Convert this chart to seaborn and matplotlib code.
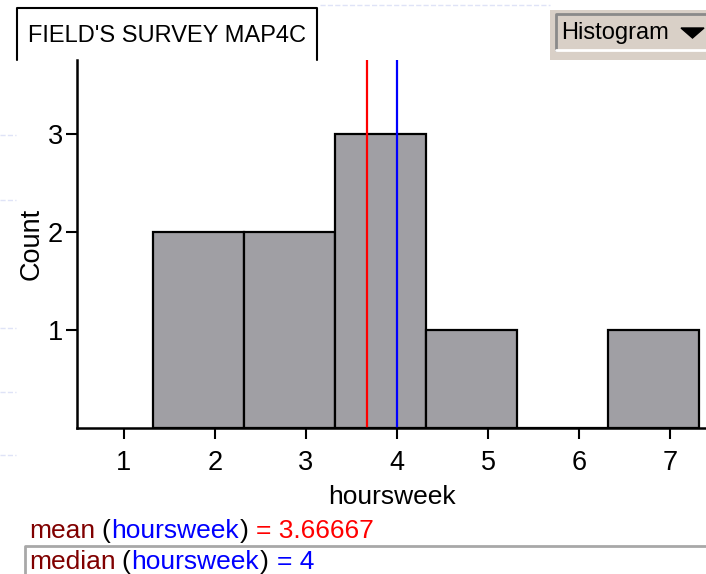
import numpy as np
import pandas as pd
import seaborn as sns
import matplotlib
matplotlib.use("Agg")
from matplotlib import pyplot as plt
from matplotlib.lines import Line2D
from matplotlib.patches import Rectangle, Polygon

# values
bin_edges = [1.32, 2.32, 3.32, 4.32, 5.32, 6.32, 7.32]
counts = [2, 2, 3, 1, 0, 1]
mean_val = 3.66667
median_val = 4
x_ticks = [1, 2, 3, 4, 5, 6, 7]
y_ticks = [1, 2, 3]
title = "FIELD'S SURVEY MAP4C"
var_name = "hoursweek"

sns.set_theme(style="white")
plt.rcParams['font.family'] = ['Liberation Sans', 'DejaVu Sans']

W, H = 706, 574
fig = plt.figure(figsize=(W / 100, H / 100), dpi=100)

def px(x, y):
    return x / W, 1 - y / H

# axes placed in pixel coords: y-axis at x=77, baseline y=428, top y=60
ax = fig.add_axes([77 / W, 1 - 428 / H, (706 - 77) / W, (428 - 60) / H])
df = pd.DataFrame({'x': [(a + b) / 2 for a, b in zip(bin_edges[:-1], bin_edges[1:])], 'n': counts})
sns.histplot(data=df, x='x', weights='n', bins=bin_edges, ax=ax, color='#a09fa4',
             edgecolor='black', linewidth=1.6, alpha=1)
ax.axvline(mean_val, color='#ff0000', lw=1.6)
ax.axvline(median_val, color='#0000ff', lw=1.6)

ax.set_xlim(1 - 47 / 91, 1 + (706 - 124) / 91)
ax.set_ylim(0, 368 / 98)
ax.set_xticks(x_ticks)
ax.set_yticks(y_ticks)
ax.tick_params(axis='both', labelsize=19.5, colors='black', length=8, width=1.5, direction='out')
ax.tick_params(axis='x', pad=8)
ax.tick_params(axis='y', pad=2)
ax.xaxis.set_ticks_position('bottom')
ax.yaxis.set_ticks_position('left')
for s in ['top', 'right']:
    ax.spines[s].set_visible(False)
for s in ['left', 'bottom']:
    ax.spines[s].set_color('black')
    ax.spines[s].set_linewidth(1.8)
ax.set_xlabel(var_name, fontsize=19, color='black', labelpad=6)
ax.set_ylabel('Count', fontsize=19.5, color='black', labelpad=2)
ax.patch.set_alpha(0)

# title box, open at the bottom
fig.add_artist(Line2D([17 / W, 17 / W, 317 / W, 317 / W],
                      [1 - 60 / H, 1 - 8 / H, 1 - 8 / H, 1 - 60 / H], color='black', lw=1.5))
fig.text(*px(167, 36), title, fontsize=17, ha='center', va='center', color='black')

# Histogram menu button
fig.add_artist(Rectangle(px(550, 60), 156 / W, 50 / H, facecolor='#d9d0c7', edgecolor='none'))
fig.add_artist(Line2D([556 / W, 556 / W, 706 / W], [1 - 50 / H, 1 - 14 / H, 1 - 14 / H], color='#8a8a8a', lw=2))
fig.add_artist(Line2D([556 / W, 706 / W], [1 - 50 / H, 1 - 50 / H], color='white', lw=2))
fig.text(*px(561, 33), 'Histogram', fontsize=17, ha='left', va='center', color='black')
fig.add_artist(Polygon([px(681, 28), px(704, 28), px(692.5, 38)], closed=True, color='black'))

# median row box
fig.add_artist(Line2D([25 / W, 25 / W, 706 / W], [0, 1 - 546 / H, 1 - 546 / H], color='#a8a8a8', lw=2))

# faint slide grid at the left edge
for yy in [135, 200, 328, 392, 455]:
    fig.add_artist(Line2D([0, 16 / W], [1 - yy / H, 1 - yy / H], color='#dfe3f7', lw=1, ls='--'))
fig.add_artist(Line2D([320 / W, 550 / W], [1 - 5 / H, 1 - 5 / H], color='#dfe3f7', lw=1, ls='--'))

fig.canvas.draw()
renderer = fig.canvas.get_renderer()

def row(parts, x0, y0):
    x = x0
    for txt, col, gap in parts:
        t = fig.text(x / W, 1 - y0 / H, txt, fontsize=19, color=col, ha='left', va='baseline')
        bb = t.get_window_extent(renderer=renderer)
        x += bb.width + gap

row([('mean', '#800000', 6), ('(', 'black', 1), (var_name, '#0000ff', 1), (')', 'black', 8),
     ('= ' + str(mean_val), '#ff0000', 0)], 29, 538)
row([('median', '#800000', 6), ('(', 'black', 1), (var_name, '#0000ff', 1), (')', 'black', 8),
     ('= ' + str(median_val), '#0000ff', 0)], 29, 569)

fig.savefig('out.png', dpi=100)
